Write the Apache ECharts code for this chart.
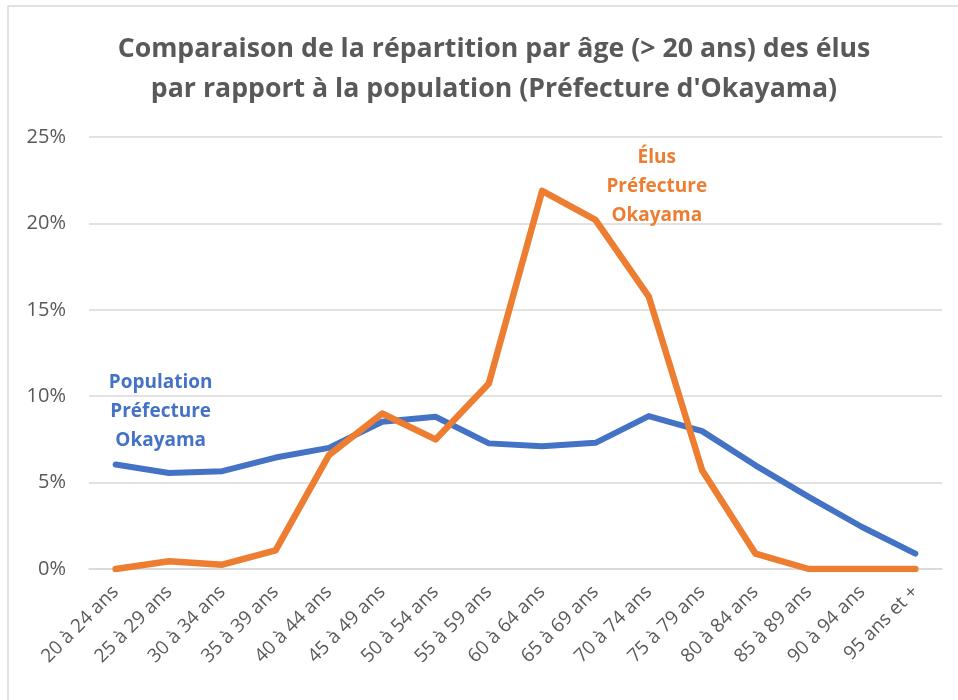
<!DOCTYPE html>
<html>
<head>
<meta charset="utf-8">
<script src="https://cdn.jsdelivr.net/npm/echarts@6/dist/echarts.min.js"></script>
<style>
  html, body { margin: 0; padding: 0; background: #fff; }
  #main { width: 958px; height: 700px; }
</style>
</head>
<body>
<div id="main"></div>
<script>
const categories = ['20 à 24 ans', '25 à 29 ans', '30 à 34 ans', '35 à 39 ans', '40 à 44 ans',
   '45 à 49 ans', '50 à 54 ans', '55 à 59 ans', '60 à 64 ans', '65 à 69 ans', '70 à 74 ans',
   '75 à 79 ans', '80 à 84 ans', '85 à 89 ans', '90 à 94 ans', '95 ans et +']

// percentages
const population = [6.05, 5.56, 5.66, 6.45, 7.01, 8.52, 8.81, 7.27, 7.11, 7.30, 8.85, 7.98, 6.0, 4.17, 2.43, 0.89]
const elus = [0, 0.45, 0.25, 1.08, 6.59, 9.0, 7.5, 10.74, 21.88, 20.2, 15.76, 5.72, 0.89, 0, 0, 0]

const popLabel = 'Population\nPréfecture\nOkayama'
const elusLabel = 'Élus\nPréfecture\nOkayama'

const blue = '#4472C4'
const orange = '#ED7D31'
const grey = '#595959'

let myChart = echarts.init(document.getElementById('main'))

function labelled(values, idx, text, color, offset) {
   return values.map(function (v, i) {
      if (i !== idx) return v
      return {
         value: v,
         label: {
            show: true,
            position: 'top',
            distance: 5,
            offset: offset,
            formatter: text,
            color: color,
            fontFamily: 'Open Sans',
            fontWeight: 'bold',
            fontSize: 19,
            lineHeight: 29,
            align: 'center'
         }
      }
   })
}

myChart.setOption({
   animation: false,
   title: {
      text: 'Comparaison de la répartition par âge (> 20 ans) des élus\npar rapport à la population (Préfecture d\'Okayama)',
      left: 489,
      textAlign: 'center',
      top: 24,
      textStyle: {
         fontFamily: 'Open Sans',
         fontWeight: 'bold',
         fontSize: 26.7,
         lineHeight: 40,
         color: grey
      }
   },
   graphic: [{
      type: 'rect',
      shape: { x: 8, y: 6, width: 980, height: 720 },
      style: { fill: 'none', stroke: '#d9d9d9', lineWidth: 1.5 },
      silent: true
   }],
   grid: {
      left: 89,
      right: 16,
      top: 137,
      bottom: 131
   },
   xAxis: {
      type: 'category',
      data: categories,
      boundaryGap: true,
      axisLine: { lineStyle: { color: '#d9d9d9', width: 1.5 } },
      axisTick: { show: false },
      axisLabel: {
         rotate: 45,
         interval: 0,
         color: grey,
         fontFamily: 'Open Sans',
         fontSize: 19,
         margin: 20
      }
   },
   yAxis: {
      type: 'value',
      min: 0,
      max: 25,
      interval: 5,
      axisLine: { show: false },
      axisTick: { show: false },
      splitLine: { lineStyle: { color: '#d9d9d9', width: 1.5 } },
      axisLabel: {
         formatter: '{value}%',
         color: grey,
         fontFamily: 'Open Sans',
         fontSize: 20,
         margin: 23
      }
   },
   series: [{
      name: 'Population Préfecture Okayama',
      type: 'line',
      data: labelled(population, 0, popLabel, blue, [45, -4]),
      symbol: 'circle',
      symbolSize: 0,
      showSymbol: true,
      lineStyle: { color: blue, width: 6, cap: 'round', join: 'round' },
      itemStyle: { color: blue }
   }, {
      name: 'Élus Préfecture Okayama',
      type: 'line',
      data: labelled(elus, 10, elusLabel, orange, [8, -62]),
      symbol: 'circle',
      symbolSize: 0,
      showSymbol: true,
      lineStyle: { color: orange, width: 6.5, cap: 'round', join: 'round' },
      itemStyle: { color: orange }
   }]
})
</script>
</body>
</html>
